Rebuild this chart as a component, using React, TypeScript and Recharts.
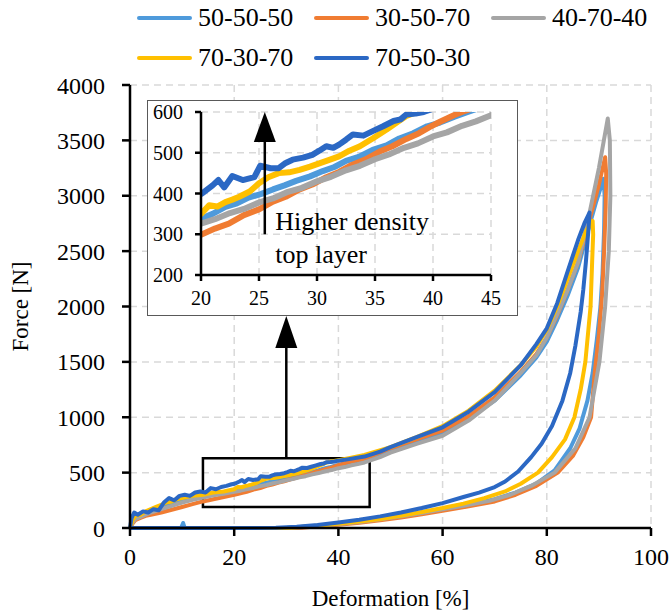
import React from 'react';
import {
  LineChart, Line, XAxis, YAxis, CartesianGrid, ReferenceArea, ReferenceLine, ReferenceDot, Label,
} from 'recharts';

const FONT = "'Liberation Serif', 'Times New Roman', serif";

const seriesNames = ['50-50-50', '30-50-70', '40-70-40', '70-30-70', '70-50-30'];
const seriesColors = ['#4E9ADB', '#F07C32', '#A5A5A5', '#FFC000', '#2B68C4'];

const xTicks = [0, 20, 40, 60, 80, 100];
const yTicks = [0, 500, 1000, 1500, 2000, 2500, 3000, 3500, 4000];
const insetXTicks = [20, 25, 30, 35, 40, 45];
const insetYTicks = [200, 300, 400, 500, 600];

// [deformation %, force N], loading branch then unloading branch
const load505050: [number, number][] = [
  [0, 0], [0.5, 60], [1, 90], [2, 110], [3, 130], [4, 150], [5, 170], [6, 190], [8, 220], [10, 250],
  [12, 270], [14, 290], [16, 305], [18, 320], [20, 338], [21, 350], [22.1, 367], [23.1, 376], [24.1, 390],
  [25.2, 399], [26.2, 410], [27.2, 420], [28.2, 431], [29.4, 442], [30.5, 455], [31.5, 465], [32.5, 480],
  [33.6, 490], [34.8, 507], [36, 518], [37.1, 535], [38.3, 548], [39.5, 565], [40.6, 574], [41.8, 588],
  [43, 600], [45, 620], [50, 700], [55, 775], [60, 860], [65, 990], [70, 1150], [75, 1379], [78, 1540],
  [80, 1682], [82, 1880], [84, 2100], [86, 2350], [88, 2700], [89.5, 2950], [90.9, 3152],
];
const unload505050: [number, number][] = [
  [91.1, 3000], [91.0, 2700], [90.7, 2300], [90.3, 2000], [89.6, 1700], [88.8, 1400], [87.8, 1150],
  [86.3, 900], [84.5, 720], [81.5, 520], [78, 400], [74, 320], [70, 260], [65, 205], [60, 165],
  [56, 135], [52, 105], [48, 78], [44, 55], [40, 36], [36, 20], [32, 7], [30, 0], [10.5, 0], [10.2, 45],
  [9.8, 0], [0, 0],
];

const load305070: [number, number][] = [
  [0, 0], [0.5, 40], [1, 70], [2, 90], [3, 110], [4, 120], [6, 140], [8, 165], [10, 190], [12, 215],
  [14, 240], [16, 260], [18, 280], [20, 299], [21.2, 314], [22.4, 326], [23.7, 347], [25, 361],
  [26.2, 380], [27.3, 392], [28.5, 410], [29.6, 422], [30.8, 440], [31.9, 453], [33, 470], [34.2, 484],
  [35.4, 503], [36.5, 516], [37.7, 534], [38.8, 548], [39.7, 563], [40.6, 576], [41.8, 592], [42.5, 600],
  [45, 625], [50, 720], [55, 800], [60, 880], [65, 1010], [70, 1180], [75, 1410], [78, 1570], [80, 1720],
  [82, 1920], [84, 2150], [86, 2400], [88, 2750], [90, 3100], [91.2, 3348],
];
const unload305070: [number, number][] = [
  [91.4, 3200], [91.3, 2900], [91.0, 2500], [90.6, 2100], [90.0, 1750], [89.2, 1400], [88.5, 1000],
  [87, 820], [85, 650], [82.1, 500], [78, 380], [74, 300], [70, 240], [65, 195], [60, 155], [56, 125],
  [52, 95], [48, 70], [44, 48], [40, 30], [36, 15], [33, 3], [32, 0], [0, 0],
];

const load407040: [number, number][] = [
  [0, 0], [0.5, 50], [1, 80], [2, 100], [3, 120], [4, 140], [6, 170], [8, 200], [10, 230], [12, 255],
  [14, 275], [16, 295], [18, 310], [20, 326], [21.2, 337], [22.5, 352], [23.7, 362], [25, 378],
  [26.2, 388], [27.5, 404], [28.7, 414], [30, 430], [31.2, 441], [32.5, 457], [33.7, 468], [35, 484],
  [36.2, 496], [37.5, 512], [38.7, 523], [40, 540], [41.2, 550], [42.5, 566], [43.7, 577], [45, 592],
  [48, 640], [50, 680], [55, 760], [60, 833], [65, 970], [70, 1151], [75, 1400], [78, 1560], [80, 1720],
  [82, 1930], [84, 2150], [86, 2400], [88, 2800], [90, 3250], [91.7, 3697],
];
const unload407040: [number, number][] = [
  [92.1, 3500], [92.2, 3000], [91.9, 2500], [91.2, 2000], [90.1, 1500], [88.2, 1000], [85.5, 720],
  [81.5, 500], [77, 380], [73, 300], [69, 245], [64, 200], [60, 170], [56, 135], [52, 105], [48, 78],
  [44, 55], [40, 35], [36, 18], [32, 5], [31, 0], [0, 0],
];

const load703070: [number, number][] = [
  [0, 0], [0.5, 70], [1, 110], [2, 120], [3, 150], [4, 170], [5, 190], [6, 210], [7, 230], [8, 240],
  [9, 260], [10, 270], [12, 290], [14, 300], [16, 320], [18, 330], [19.5, 345], [20, 350], [20.7, 371],
  [21.4, 368], [22.1, 379], [22.7, 385], [23.3, 392], [24.2, 405], [25, 425], [25.8, 440], [26.7, 450],
  [27.6, 452], [28.5, 458], [29.4, 466], [30.2, 474], [31, 482], [31.9, 491], [32.8, 505], [33.7, 516],
  [34.8, 535], [36, 557], [36.9, 575], [37.7, 590], [38.6, 600], [40, 612], [42, 630], [45, 660],
  [50, 730], [55, 820], [60, 920], [65, 1060], [70, 1240], [75, 1470], [78, 1640], [80, 1790],
  [82, 2000], [84, 2250], [86, 2500], [87.5, 2680], [88.8, 2773],
];
const unload703070: [number, number][] = [
  [88.9, 2650], [88.7, 2400], [88.4, 2000], [87.9, 1750], [87.4, 1500], [86.5, 1250], [85.3, 1000],
  [83.5, 800], [81, 640], [78.3, 500], [75, 400], [72, 330], [68, 270], [64, 220], [60, 180], [56, 145],
  [52, 110], [48, 82], [44, 58], [40, 38], [36, 20], [32, 6], [30, 0], [0, 0],
];

const load705030: [number, number][] = [
  [0, 0], [0.3, 90], [0.8, 140], [1.5, 120], [2.5, 150], [3.5, 140], [4.5, 170], [5.5, 160], [6.5, 230],
  [7.5, 270], [8.5, 250], [9.5, 290], [10.5, 300], [11.5, 290], [12.5, 320], [13.5, 330], [14.5, 320],
  [15.5, 360], [16.5, 350], [17.5, 370], [18.5, 380], [19.5, 395], [20.1, 400], [21, 420], [21.5, 433],
  [22, 415], [22.7, 443], [23.6, 433], [24.6, 440], [25.1, 468], [26, 462], [26.7, 462], [27.3, 475],
  [27.9, 483], [28.8, 488], [29.6, 495], [30.2, 505], [30.8, 516], [31.4, 512], [31.9, 520], [32.5, 532],
  [33.1, 545], [34, 542], [34.8, 553], [35.7, 565], [36.6, 578], [37.2, 582], [37.7, 594], [38.5, 596],
  [39.2, 600], [40, 608], [42, 622], [45, 645], [48, 690], [50, 730], [55, 820], [60, 909], [65, 1050],
  [70, 1227], [75, 1470], [78, 1660], [80, 1803], [82, 2030], [84, 2318], [86, 2600], [87.3, 2760],
  [88.2, 2848],
];
const unload705030: [number, number][] = [
  [88.0, 2700], [87.5, 2400], [87.0, 2150], [86.5, 1950], [85.5, 1650], [84.5, 1400], [83, 1150],
  [81, 920], [79, 760], [77, 640], [74.5, 510], [72, 420], [70, 370], [67, 320], [64, 280], [60, 225],
  [56, 180], [52, 140], [48, 105], [44, 75], [40, 50], [36, 28], [32, 12], [28, 2], [20, 0], [0, 0],
];

const branches: [number, number][][][] = [
  [load505050, unload505050],
  [load305070, unload305070],
  [load407040, unload407040],
  [load703070, unload703070],
  [load705030, unload705030],
];

const series = seriesNames.map((name, i) => ({
  name,
  color: seriesColors[i],
  data: [...branches[i][0], ...branches[i][1]].map(([x, y]) => ({ x, y })),
}));

// arrow drawn on a reference segment, tip at the second point
const arrowShape = (head: number, half: number, width: number) => (p: any) => {
  const { x1, y1, x2, y2 } = p;
  return (
    <g>
      <line x1={x1} y1={y1} x2={x2} y2={y2 + head - 2} stroke="#000" strokeWidth={width} />
      <polygon points={`${x2},${y2} ${x2 - half},${y2 + head} ${x2 + half},${y2 + head}`} fill="#000" />
    </g>
  );
};

const tickStyle = { fill: '#000', fontSize: 24, fontFamily: FONT };
const insetTickStyle = { fill: '#000', fontSize: 20, fontFamily: FONT };
const axisLine = { stroke: '#000', strokeWidth: 2.5 };

const Legend: React.FC = () => (
  <div style={{ position: 'absolute', left: 137, top: -2, width: 534, display: 'flex', flexWrap: 'wrap', fontFamily: FONT, fontSize: 26 }}>
    {series.map(s => (
      <div key={s.name} style={{ width: 177, height: 40, display: 'flex', alignItems: 'center' }}>
        <div style={{ width: 55, height: 4, background: s.color, borderRadius: 2, marginRight: 6 }} />
        <span style={{ fontFamily: FONT }}>{s.name}</span>
      </div>
    ))}
  </div>
);

export default function App() {
  return (
    <div style={{ position: 'absolute', left: 0, top: 0, width: 671, height: 613, background: '#fff', fontFamily: FONT }}>
      <LineChart width={671} height={613} margin={{ top: 85, right: 20, bottom: 5, left: 10 }} style={{ fontFamily: FONT }}>
        <CartesianGrid stroke="#d9d9d9" strokeWidth={1.5} strokeDasharray="7 5" />
        <XAxis
          type="number" dataKey="x" domain={[0, 100]} ticks={xTicks} height={80}
          axisLine={axisLine} tickLine={axisLine} fontFamily={FONT} fontSize={24}
          tickSize={8} tickMargin={12} tick={tickStyle}
        >
          <Label value="Deformation [%]" position="insideBottom" offset={2} style={{ fontSize: 23, fontFamily: FONT, fill: '#000' }} />
        </XAxis>
        <YAxis
          type="number" domain={[0, 4000]} ticks={yTicks} width={120} interval={0}
          axisLine={axisLine} tickLine={axisLine} fontFamily={FONT} fontSize={24}
          tickSize={8} tickMargin={17} tick={tickStyle}
        >
          <Label value="Force [N]" angle={-90} position="insideLeft" offset={10} style={{ fontSize: 23, fontFamily: FONT, fill: '#000', textAnchor: 'middle' }} />
        </YAxis>
        {series.map(s => (
          <Line key={s.name} data={s.data} dataKey="y" name={s.name} type="linear" stroke={s.color}
            strokeWidth={4} dot={false} isAnimationActive={false} strokeLinejoin="round" />
        ))}
        <ReferenceArea x1={14} x2={46} y1={190} y2={630} fill="none" stroke="#000" strokeWidth={2.5} fillOpacity={0} />
        <ReferenceLine segment={[{ x: 30, y: 630 }, { x: 30, y: 1914 }]} stroke="#000" shape={arrowShape(32, 11, 2.5)} />
      </LineChart>

      <Legend />

      <div style={{ position: 'absolute', left: 147, top: 100, width: 371, height: 216, border: '1px solid #595959', boxSizing: 'border-box', background: '#fff' }}>
        <LineChart width={369} height={214} margin={{ top: 11, right: 26, bottom: 5, left: 3 }} style={{ fontFamily: FONT }}>
          <CartesianGrid stroke="#d9d9d9" strokeWidth={1.5} strokeDasharray="7 5" />
          <XAxis
            type="number" dataKey="x" domain={[20, 45]} ticks={insetXTicks} allowDataOverflow height={35}
            axisLine={axisLine} tickLine={axisLine} fontFamily={FONT} fontSize={20}
            tickSize={6} tickMargin={10} tick={insetTickStyle}
          />
          <YAxis
            type="number" domain={[200, 600]} ticks={insetYTicks} allowDataOverflow width={50} interval={0}
            axisLine={axisLine} tickLine={axisLine} fontFamily={FONT} fontSize={20}
            tickSize={6} tickMargin={12} tick={insetTickStyle}
          />
          {series.map(s => (
            <Line key={s.name} data={s.data} dataKey="y" name={s.name} type="linear" stroke={s.color}
              strokeWidth={6} dot={false} isAnimationActive={false} strokeLinejoin="round" />
          ))}
          <ReferenceLine segment={[{ x: 25.5, y: 300 }, { x: 25.5, y: 600 }]} stroke="#000" shape={arrowShape(30, 11, 2.5)} />
          <ReferenceDot x={26.4} y={310} r={0} shape={(p: any) => (
            <text x={p.cx} y={p.cy} fontFamily={FONT} fontSize={26} fill="#000">
              <tspan x={p.cx}>Higher density</tspan>
              <tspan x={p.cx} dy={33}>top layer</tspan>
            </text>
          )} />
        </LineChart>
      </div>
    </div>
  );
}
